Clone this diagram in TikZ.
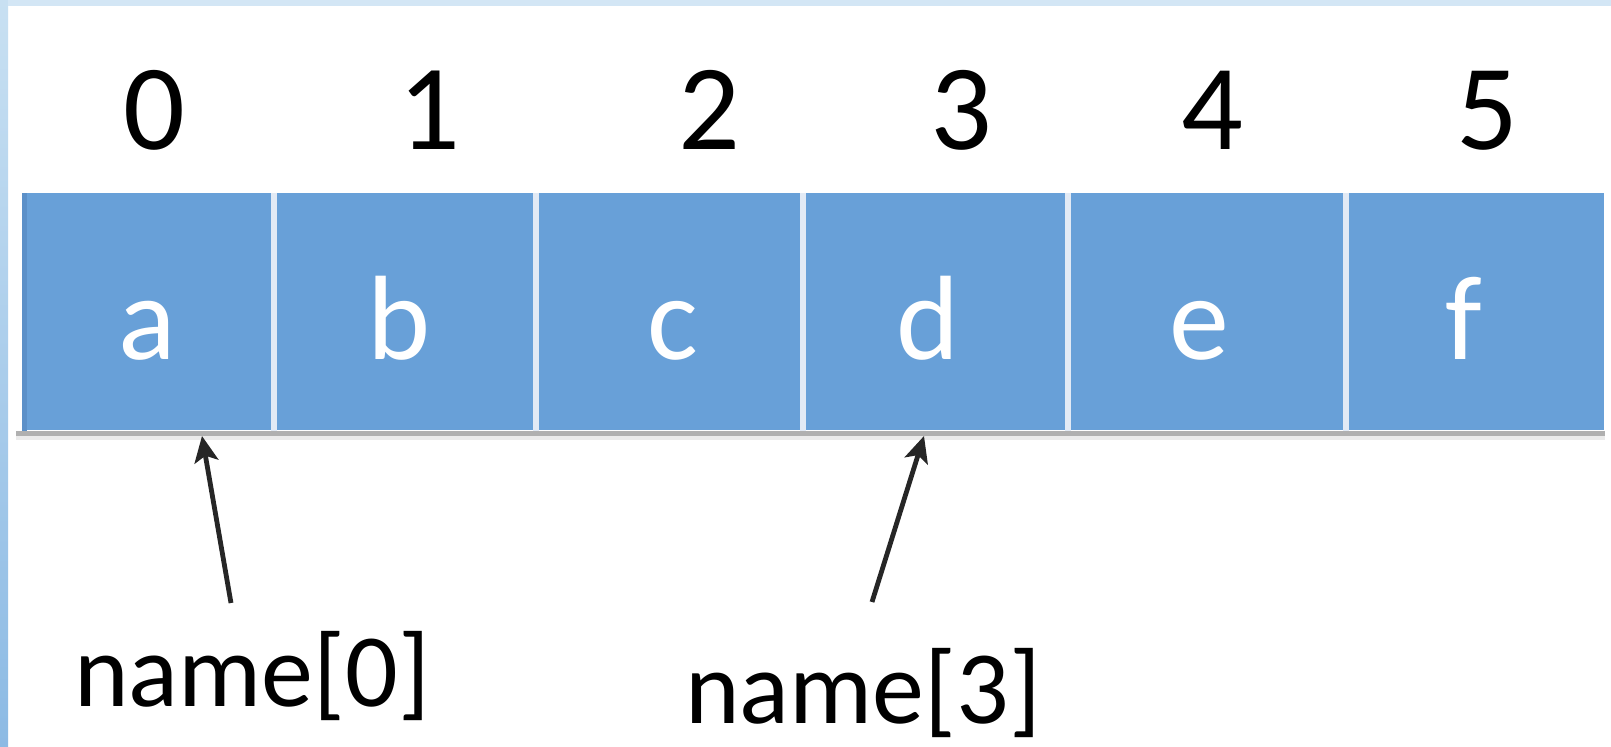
\documentclass[tikz,border=0pt]{standalone}
\usepackage{fontspec}
\setmainfont{Carlito}
\usetikzlibrary{arrows.meta}
\definecolor{cellblue}{RGB}{104,160,216}
\definecolor{celledge}{RGB}{92,144,200}
\definecolor{sepwhite}{RGB}{226,234,245}
\definecolor{framelight}{RGB}{200,224,242}
\definecolor{framedark}{RGB}{140,186,228}
\definecolor{shadowgray}{RGB}{176,176,176}
\tikzset{
  cell/.style={fill=cellblue, draw=none, inner sep=0pt, anchor=north west, minimum height=118.5pt},
  idx/.style={font=\fontsize{61}{70}\selectfont, text=black, anchor=base, inner sep=0pt},
  val/.style={font=\fontsize{60}{68}\selectfont, text=white, anchor=base, inner sep=0pt},
  lbl/.style={font=\fontsize{52}{60}\selectfont, text=black, anchor=base, inner sep=0pt},
  sep/.style={draw=sepwhite, line width=2.6pt},
  arr/.style={draw=black!85, line width=2.4pt, -{Stealth[length=13pt,width=12pt,inset=3pt]}}
}
\begin{document}
\begin{tikzpicture}[x=0.5pt,y=-0.5pt]
\useasboundingbox (0,0) rectangle (1611,747);
\fill[white] (0,0) rectangle (1611,747);
% frame
\shade[top color=framelight, bottom color=framedark] (0,0) rectangle (8,747);
\fill[framelight!80!white] (8,0) rectangle (1611,6);
% cells
\node[cell, minimum width=126pt]   (ca) at (22,193) {};
\node[cell, minimum width=131pt]   (cb) at (274,193) {};
\node[cell, minimum width=133.5pt] (cc) at (536,193) {};
\node[cell, minimum width=132.5pt] (cd) at (803,193) {};
\node[cell, minimum width=139pt]   (ce) at (1068,193) {};
\node[cell, minimum width=129pt]   (cf) at (1346,193) {};
% left darker edge
\fill[celledge] (ca.north west) rectangle ([xshift=2.5pt]ca.south west);
% separators
\draw[sep] (cb.north west) -- (cb.south west);
\draw[sep] (cc.north west) -- (cc.south west);
\draw[sep] (cd.north west) -- (cd.south west);
\draw[sep] (ce.north west) -- (ce.south west);
\draw[sep] (cf.north west) -- (cf.south west);
% bottom shadow line
\draw[shadowgray, line width=2.5pt] ([xshift=-3pt,yshift=-1.2pt]ca.south west) -- ([yshift=-1.2pt]cf.south east);
\draw[black!8, line width=2pt] ([xshift=-3pt,yshift=-3.5pt]ca.south west) -- ([yshift=-3.5pt]cf.south east);
% indices
\node[idx] (i0) at (154,150) {0};
\node[idx] (i1) at (429,150) {1};
\node[idx] (i2) at (709,150) {2};
\node[idx] (i3) at (961,150) {3};
\node[idx] (i4) at (1212,150) {4};
\node[idx] (i5) at (1487,150) {5};
% values
\node[val] (va) at (147,360) {a};
\node[val] (vb) at (399,360) {b};
\node[val] (vc) at (673,360) {c};
\node[val] (vd) at (928,360) {d};
\node[val] (ve) at (1199,360) {e};
\node[val] (vf) at (1464,360) {f};
% labels
\node[lbl] (n0) at (252,707) {name[0]};
\node[lbl] (n3) at (863,724) {name[3]};
% arrows
\coordinate (t0) at (231,603);
\coordinate (h0) at (202,436);
\coordinate (t3) at (872,602);
\coordinate (h3) at (924,436);
\draw[arr] (t0) -- (h0);
\draw[arr] (t3) -- (h3);
\end{tikzpicture}
\end{document}
